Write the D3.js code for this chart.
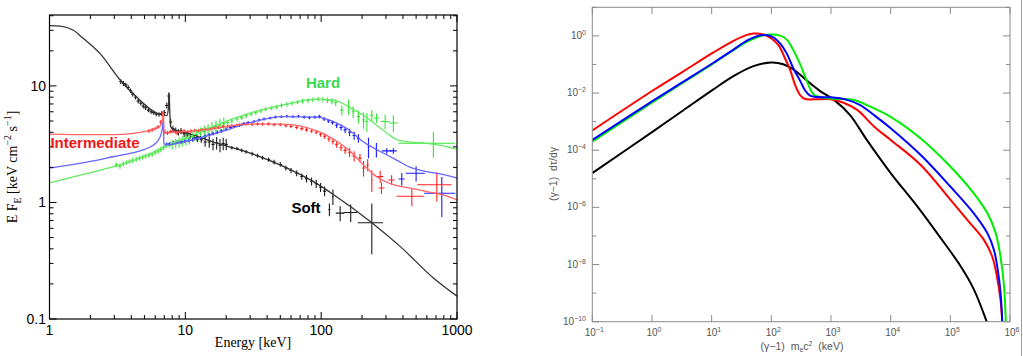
<!DOCTYPE html>
<html lang="en">
<head>
<meta charset="utf-8">
<title>spectra</title>
<style>
  body { margin: 0; background: #fff; }
  svg { display: block; }
</style>
</head>
<body>
<div id="chart"></div>
<script src="https://cdnjs.cloudflare.com/ajax/libs/d3/7.8.5/d3.min.js"></script>
<script>
// ---------- left panel: E F_E spectra, [E keV, flux] ----------
const softModel = [[1,32.9],[1.2,32.6],[1.5,30],[1.77,25.6],[2.35,19],[3.3,11.3],[4.6,7.6],[6.15,5.84],[7.3,5.55],[7.5,6.4],[7.6,8.65],[7.7,5.6],[7.8,4.45],[8.5,4.15],[10.2,3.96],[17,3.23],[30,2.65],[52.7,2.04],[93,1.45],[123,1.17],[236,0.67],[381,0.42],[670,0.225],[1000,0.157]]
const interModel = [[1,3.86],[2,3.82],[3,3.82],[4,3.9],[5,4.06],[6,4.3],[6.5,4.5],[6.75,5.0],[6.9,6.1],[6.95,4.2],[7.2,3.98],[10,4.06],[17,4.34],[30,4.7],[52,4.7],[93,4.11],[123,3.5],[160,2.8],[205,2.1],[255,1.67],[340,1.42],[450,1.33],[600,1.24],[795,1.16],[1000,1.05]]
const blueModel = [[1,1.97],[2,2.25],[3,2.48],[4,2.65],[5,2.85],[5.8,3.1],[6.3,3.4],[6.6,3.8],[6.8,4.5],[6.9,5.4],[6.95,3.2],[7.2,3.12],[10,3.33],[17,3.93],[30,4.85],[52,5.46],[93,5.39],[123,4.94],[160,4.2],[205,3.3],[255,2.85],[304,2.56],[362,2.3],[450,2.01],[600,1.84],[795,1.73],[1000,1.62]]
const hardModel = [[1,1.47],[2,1.8],[3,2.04],[5,2.48],[7,3.02],[10,3.56],[17,4.63],[30,5.84],[52,6.87],[93,7.69],[123,7.6],[160,6.6],[205,5.6],[255,4.6],[304,3.95],[362,3.45],[450,3.3],[600,3.22],[795,3.06],[1000,2.85]]

// data points [E, F, dE, dF]; dE = 0 -> narrow bin
const softData = [[3.35,10.9,0,0.5],[3.5,10.5,0,0.5],[3.65,10.2,0,0.45],[3.8,9.7,0,0.45],[3.95,9.1,0,0.4],[4.1,8.5,0,0.4],[4.3,8.0,0,0.35],[4.5,7.4,0,0.35],[4.7,7.1,0,0.3],[4.9,6.7,0,0.3],[5.1,6.5,0,0.3],[5.35,6.2,0,0.25],[5.6,6.0,0,0.25],[5.85,5.9,0,0.25],[6.1,5.75,0,0.25],[6.4,5.7,0,0.25],[6.7,5.8,0,0.25],[7.0,5.9,0,0.3],[7.3,6.8,0,0.4],[7.55,8.2,0,0.6],[7.8,4.9,0,0.3],[8.1,4.3,0,0.25],[8.5,4.15,0,0.25],[8.9,4.0,0,0.25],[9.3,4.1,0,0.25],[9.8,3.9,0,0.25],[10.3,3.8,0,0.2],[10.9,3.7,0,0.2],[11.6,3.6,0,0.2],[12.3,3.5,0,0.2],[13.1,3.45,0,0.2],[14,3.3,0,0.3],[15,3.3,0,0.35],[16,3.15,0,0.35],[17,3.25,0,0.4],[18,3.1,0,0.4],[19,3.2,0,0.4],[20,3.15,0,0.35],[22,2.95,0,0.1],[24,2.9,0,0.1],[26,2.8,0,0.1],[28,2.72,0,0.1],[31,2.62,0,0.1],[34,2.52,0,0.1],[37,2.42,0,0.1],[41,2.33,0,0.1],[45,2.22,0,0.1],[50,2.12,0,0.1],[55,1.98,0,0.1],[60,1.88,0,0.1],[66,1.78,0,0.1],[72,1.67,0,0.1],[78,1.6,0,0.12],[85,1.52,0,0.12],[92,1.45,0,0.12],[99,1.35,0,0.12],[106,1.25,0,0.12],[115,0.87,2,0.11],[122,1.12,2,0.17],[138,0.81,10,0.12],[165,0.82,19,0.14],[236,0.67,50,0.31]]
const interData = [[5.4,4.1,0,0.15],[5.7,4.2,0,0.15],[6.0,4.3,0,0.15],[6.3,4.45,0,0.15],[6.6,4.9,0,0.2],[6.85,5.8,0,0.3],[7.1,4.0,0,0.15],[7.4,3.95,0,0.15],[7.8,4.05,0,0.15],[8.2,4.1,0,0.15],[8.7,3.95,0,0.15],[9.2,4.05,0,0.15],[9.8,4.1,0,0.15],[10.4,4.0,0,0.15],[11,4.1,0,0.15],[11.7,4.15,0,0.15],[12.5,4.1,0,0.15],[13.3,4.2,0,0.15],[14.2,4.25,0,0.15],[15.2,4.3,0,0.15],[16.3,4.35,0,0.15],[17.5,4.4,0,0.15],[19,4.5,0,0.15],[20.5,4.5,0,0.15],[22,4.55,0,0.15],[24,4.6,0,0.15],[26,4.65,0,0.15],[28,4.7,0,0.15],[31,4.68,0,0.15],[34,4.72,0,0.15],[37,4.7,0,0.15],[41,4.72,0,0.15],[45,4.65,0,0.15],[50,4.65,0,0.15],[55,4.55,0,0.15],[60,4.5,0,0.15],[66,4.4,0,0.15],[72,4.3,0,0.15],[78,4.2,0,0.15],[85,4.1,0,0.15],[92,4.0,0,0.15],[99,3.85,0,0.18],[106,3.7,0,0.18],[114,3.5,0,0.18],[122,3.35,0,0.2],[130,3.15,0,0.2],[140,2.95,0,0.2],[150,2.8,0,0.2],[162,2.7,0,0.25],[175,2.5,0,0.25],[193,2.4,0,0.2],[205,1.97,4,0.3],[220,2.1,4,0.25],[236,1.56,3,0.33],[272,1.67,15,0.2],[278,1.33,14,0.15],[330,1.56,18,0.15],[465,1.13,105,0.2],[710,1.42,200,0.4]]
const blueData = [[7.3,3.15,0,0.12],[7.7,3.2,0,0.12],[8.2,3.25,0,0.12],[8.7,3.3,0,0.12],[9.3,3.3,0,0.12],[9.9,3.35,0,0.12],[10.6,3.4,0,0.12],[11.3,3.45,0,0.12],[12.1,3.55,0,0.12],[13,3.6,0,0.12],[14,3.7,0,0.14],[15,3.8,0,0.14],[16,3.9,0,0.14],[17.2,4.0,0,0.14],[18.5,4.1,0,0.14],[20,4.25,0,0.15],[21.5,4.4,0,0.15],[23,4.5,0,0.15],[25,4.6,0,0.15],[27,4.75,0,0.15],[29,4.85,0,0.15],[32,4.95,0,0.15],[35,5.1,0,0.15],[38,5.2,0,0.15],[42,5.3,0,0.15],[46,5.4,0,0.15],[51,5.45,0,0.15],[56,5.5,0,0.15],[62,5.45,0,0.15],[68,5.5,0,0.15],[75,5.4,0,0.18],[82,5.35,0,0.18],[90,5.4,0,0.18],[97,5.45,0,0.2],[105,5.2,0,0.2],[113,5.0,0,0.2],[121,4.85,0,0.2],[130,4.6,0,0.25],[140,4.4,0,0.25],[150,4.2,0,0.25],[162,4.0,0,0.3],[175,3.75,0,0.3],[188,3.55,0,0.3],[223,3.0,3,0.6],[255,2.83,4,0.4],[304,2.77,25,0.15],[340,2.77,20,0.15],[392,1.59,20,0.2],[500,1.78,80,0.27],[773,1.2,200,0.45]]
const hardData = [[3.1,2.1,0,0.1],[3.3,2.05,0,0.1],[3.5,2.15,0,0.1],[3.7,2.2,0,0.1],[3.9,2.25,0,0.1],[4.1,2.3,0,0.12],[4.35,2.35,0,0.12],[4.6,2.4,0,0.12],[4.85,2.45,0,0.12],[5.1,2.5,0,0.12],[5.4,2.55,0,0.13],[5.7,2.6,0,0.13],[6.0,2.7,0,0.14],[6.3,2.75,0,0.14],[6.6,2.85,0,0.15],[6.9,2.95,0,0.15],[7.2,3.05,0,0.15],[7.6,3.1,0,0.15],[8.0,3.15,0,0.3],[8.5,3.2,0,0.3],[9.0,3.3,0,0.35],[9.5,3.35,0,0.35],[10.1,3.5,0,0.4],[10.7,3.55,0,0.4],[11.4,3.7,0,0.4],[12.1,3.8,0,0.45],[12.9,3.95,0,0.45],[13.8,4.05,0,0.5],[14.7,4.2,0,0.5],[15.7,4.35,0,0.55],[16.8,4.5,0,0.55],[18,4.6,0,0.6],[19.2,4.75,0,0.6],[20.5,4.85,0,0.25],[22,5.0,0,0.25],[24,5.2,0,0.25],[26,5.35,0,0.25],[28,5.55,0,0.25],[30.5,5.75,0,0.25],[33,5.9,0,0.25],[36,6.1,0,0.25],[39,6.3,0,0.25],[43,6.45,0,0.25],[47,6.6,0,0.3],[51,6.8,0,0.3],[56,6.95,0,0.3],[61,7.1,0,0.3],[67,7.25,0,0.3],[73,7.4,0,0.35],[80,7.5,0,0.35],[87,7.6,0,0.35],[95,7.7,0,0.35],[103,7.65,0,0.4],[111,7.55,0,0.4],[120,7.4,0,0.45],[128,7.2,0,0.5],[142,6.2,0,0.6],[159,6.65,0,1.0],[172,6.0,0,0.7],[188,5.45,0,0.7],[205,5.1,0,0.8],[217,4.95,0,0.9],[236,5.6,0,0.6],[256,5.3,12,0.5],[296,4.95,22,0.7],[340,4.8,25,0.8],[670,3.22,300,0.8]]

const leftXTicks = [1, 10, 100, 1000]
const leftYTicks = [0.1, 1, 10]

// ---------- right panel: (gamma-1) dtau/dgamma, [log10 x, log10 y] ----------
const redDist = [[-1,-3.31],[0.007,-1.92],[0.527,-1.24],[1.03,-0.58],[1.366,-0.174],[1.59,0.036],[1.70,0.083],[1.87,0.048],[2.0,-0.09],[2.12,-0.324],[2.23,-0.79],[2.317,-1.2],[2.40,-1.72],[2.49,-2.09],[2.57,-2.21],[2.71,-2.22],[2.99,-2.22],[3.21,-2.34],[3.44,-2.59],[3.72,-3.17],[4.0,-3.64],[4.5,-4.51],[5.0,-5.73],[5.28,-6.43],[5.56,-7.13],[5.70,-7.71],[5.78,-8.41],[5.84,-9.22],[5.87,-10]]
const blueDist = [[-1,-3.64],[0.007,-2.28],[0.527,-1.60],[1.03,-0.94],[1.366,-0.48],[1.59,-0.17],[1.76,-0.01],[1.93,0.024],[2.04,-0.06],[2.15,-0.27],[2.26,-0.62],[2.37,-1.14],[2.49,-1.60],[2.57,-1.92],[2.65,-2.09],[2.77,-2.14],[2.99,-2.15],[3.27,-2.24],[3.49,-2.42],[3.72,-2.77],[4.0,-3.23],[4.5,-4.16],[5.0,-5.27],[5.39,-6.20],[5.62,-6.90],[5.73,-7.48],[5.81,-8.41],[5.85,-9.22],[5.87,-10]]
const greenDist = [[-1,-3.70],[0.007,-2.33],[0.527,-1.63],[1.03,-0.965],[1.366,-0.50],[1.59,-0.21],[1.81,-0.01],[1.98,0.048],[2.15,0.01],[2.26,-0.13],[2.37,-0.5],[2.49,-1.02],[2.60,-1.60],[2.71,-2.05],[2.83,-2.15],[3.05,-2.2],[3.39,-2.24],[3.60,-2.42],[4.0,-2.83],[4.5,-3.58],[5.0,-4.57],[5.39,-5.50],[5.62,-6.20],[5.76,-6.90],[5.84,-7.71],[5.90,-8.76],[5.93,-10]]
const blackDist = [[-1,-4.80],[0.007,-3.36],[0.527,-2.60],[1.03,-1.87],[1.366,-1.41],[1.70,-1.06],[2.0,-0.93],[2.2,-0.99],[2.37,-1.17],[2.60,-1.57],[2.83,-1.95],[3.05,-2.24],[3.32,-2.77],[3.60,-3.64],[4.0,-4.80],[4.44,-5.95],[4.83,-7.05],[5.17,-8.05],[5.39,-8.85],[5.61,-10]]

const rightXExps = [-1, 0, 1, 2, 3, 4, 5, 6]
const rightYExps = [-10, -9, -8, -7, -6, -5, -4, -3, -2, -1, 0, 1]

const W = 1023, H = 356
const svg = d3.select('#chart').append('svg').attr('width', W).attr('height', H)

// ================= LEFT =================
const lx = d3.scaleLog().domain([1, 1000]).range([49.5, 457])
const ly = d3.scaleLog().domain([0.1, 40.6]).range([319, 15])
const L = svg.append('g')

L.append('defs').append('clipPath').attr('id', 'clipL')
  .append('rect').attr('x', 49.5).attr('y', 15).attr('width', 457 - 49.5).attr('height', 304)

const lineL = d3.line().x(d => lx(d[0])).y(d => ly(d[1])).curve(d3.curveMonotoneX)
const plotL = L.append('g').attr('clip-path', 'url(#clipL)')

function drawData(data, color) {
  const g = plotL.append('g').attr('stroke', color).attr('stroke-width', 1.1).attr('fill', 'none')
  data.forEach(d => {
    const [e, f, de, df] = d
    const cx = lx(e), cy = ly(f)
    const x0 = de ? lx(e - de) : cx - 1.6
    const x1 = de ? lx(e + de) : cx + 1.6
    g.append('line').attr('x1', x0).attr('x2', x1).attr('y1', cy).attr('y2', cy)
    g.append('line').attr('x1', cx).attr('x2', cx).attr('y1', ly(Math.max(f - df, 0.101))).attr('y2', ly(f + df))
  })
}

drawData(softData, '#1a1a1a')
drawData(hardData, '#33e633')
drawData(blueData, '#1a1aff')
drawData(interData, '#ff2020')

const models = [[softModel, '#333'], [hardModel, '#66ea66'], [blueModel, '#6666ff'], [interModel, '#ff6262']]
models.forEach(([m, c]) => {
  plotL.append('path').datum(m).attr('d', lineL).attr('fill', 'none').attr('stroke', c).attr('stroke-width', 1.3)
})

// frame + ticks
L.append('rect').attr('x', 49.5).attr('y', 15).attr('width', 457 - 49.5).attr('height', 304)
  .attr('fill', 'none').attr('stroke', '#000').attr('stroke-width', 1.2)

const lxMinor = []
for (let k = 0; k < 3; k++) for (let m = 2; m <= 9; m++) lxMinor.push(m * Math.pow(10, k))
const lyMinor = []
for (let k = -1; k < 2; k++) for (let m = 2; m <= 9; m++) { const v = m * Math.pow(10, k); if (v < 40.6) lyMinor.push(v) }

const tk = L.append('g').attr('stroke', '#000').attr('stroke-width', 1)
leftXTicks.forEach(v => {
  tk.append('line').attr('x1', lx(v)).attr('x2', lx(v)).attr('y1', 319).attr('y2', 312)
  tk.append('line').attr('x1', lx(v)).attr('x2', lx(v)).attr('y1', 15).attr('y2', 22)
})
lxMinor.forEach(v => {
  tk.append('line').attr('x1', lx(v)).attr('x2', lx(v)).attr('y1', 319).attr('y2', 315)
  tk.append('line').attr('x1', lx(v)).attr('x2', lx(v)).attr('y1', 15).attr('y2', 19)
})
leftYTicks.forEach(v => {
  tk.append('line').attr('x1', 49.5).attr('x2', 56.5).attr('y1', ly(v)).attr('y2', ly(v))
  tk.append('line').attr('x1', 457).attr('x2', 450).attr('y1', ly(v)).attr('y2', ly(v))
})
lyMinor.forEach(v => {
  tk.append('line').attr('x1', 49.5).attr('x2', 53.5).attr('y1', ly(v)).attr('y2', ly(v))
  tk.append('line').attr('x1', 457).attr('x2', 453).attr('y1', ly(v)).attr('y2', ly(v))
})

const fontL = '"Liberation Sans", Arial, sans-serif'
L.selectAll('.lxl').data(leftXTicks).enter().append('text')
  .attr('x', d => lx(d)).attr('y', 335).attr('text-anchor', 'middle')
  .style('font-family', fontL).style('font-size', '14px').text(d => d)
L.selectAll('.lyl').data(leftYTicks).enter().append('text')
  .attr('x', 46).attr('y', d => ly(d) + 5).attr('text-anchor', 'end')
  .style('font-family', fontL).style('font-size', '14px').text(d => d)

const serif = '"Liberation Serif", "Times New Roman", serif'
L.append('text').attr('x', 253).attr('y', 347).attr('text-anchor', 'middle')
  .style('font-family', serif).style('font-size', '14px').text('Energy [keV]')

const yl = L.append('text').attr('transform', 'translate(17,167) rotate(-90)').attr('text-anchor', 'middle')
  .style('font-family', serif).style('font-size', '14px')
yl.append('tspan').text('E F')
yl.append('tspan').attr('dy', 4).style('font-size', '10px').text('E')
yl.append('tspan').attr('dy', -4).text(' [keV cm')
yl.append('tspan').attr('dy', -6).style('font-size', '10px').text('−2')
yl.append('tspan').attr('dy', 6).text(' s')
yl.append('tspan').attr('dy', -6).style('font-size', '10px').text('−1')
yl.append('tspan').attr('dy', 6).text(']')

const lab = [['Hard', 323, 88, '#3ad84e'], ['Intermediate', 95, 148, '#f01616'], ['Soft', 306, 213, '#000']]
lab.forEach(([t, x, y, c]) => {
  L.append('text').attr('x', x).attr('y', y).attr('text-anchor', 'middle')
    .style('font-family', fontL).style('font-size', '15px').style('font-weight', 'bold')
    .attr('fill', c).text(t)
})

// ================= RIGHT =================
const rx = d3.scaleLog().domain([0.1, 1e6]).range([592.3, 1010])
const ry = d3.scaleLog().domain([1e-10, 10]).range([321.7, 7.3])
const R = svg.append('g')
R.append('defs').append('clipPath').attr('id', 'clipR')
  .append('rect').attr('x', 592.3).attr('y', 7.3).attr('width', 1010 - 592.3).attr('height', 321.7 - 7.3)

const lineR = d3.line().x(d => rx(Math.pow(10, d[0]))).y(d => ry(Math.pow(10, d[1]))).curve(d3.curveCatmullRom.alpha(0.5))
const plotR = R.append('g').attr('clip-path', 'url(#clipR)')
const dists = [[blackDist, '#000'], [redDist, '#ff0000'], [greenDist, '#00ee00'], [blueDist, '#0000ff']]
dists.forEach(([s, c]) => {
  plotR.append('path').datum(s).attr('d', lineR).attr('fill', 'none').attr('stroke', c).attr('stroke-width', 2)
})

const grey = '#8a8a8a'
R.append('rect').attr('x', 592.3).attr('y', 7.3).attr('width', 1010 - 592.3).attr('height', 321.7 - 7.3)
  .attr('fill', 'none').attr('stroke', grey).attr('stroke-width', 1)
const tr = R.append('g').attr('stroke', grey).attr('stroke-width', 1)
rightXExps.forEach(e => {
  const x = rx(Math.pow(10, e))
  tr.append('line').attr('x1', x).attr('x2', x).attr('y1', 321.7).attr('y2', 315)
  tr.append('line').attr('x1', x).attr('x2', x).attr('y1', 7.3).attr('y2', 14)
})
rightYExps.forEach(e => {
  const y = ry(Math.pow(10, e)), len = e % 2 === 0 ? 7 : 4
  tr.append('line').attr('x1', 592.3).attr('x2', 592.3 + len).attr('y1', y).attr('y2', y)
  tr.append('line').attr('x1', 1010).attr('x2', 1010 - len).attr('y1', y).attr('y2', y)
})
svg.append('line').attr('x1', 1021.5).attr('x2', 1021.5).attr('y1', 0).attr('y2', H)
  .attr('stroke', '#a0a0a0').attr('stroke-width', 1)

const fontR = '"Liberation Sans", Arial, sans-serif'
function powLabel(sel, e) {
  sel.append('tspan').text('10')
  sel.append('tspan').attr('dy', -4).style('font-size', '7px').text(e < 0 ? '−' + (-e) : e)
}
rightXExps.forEach(e => {
  const t = R.append('text').attr('x', rx(Math.pow(10, e)) + 2).attr('y', 336).attr('text-anchor', 'middle')
    .attr('fill', '#555').style('font-family', fontR).style('font-size', '10px')
  powLabel(t, e)
})
rightYExps.filter(e => e % 2 === 0 && e <= 0).forEach(e => {
  const t = R.append('text').attr('x', 586).attr('y', ry(Math.pow(10, e)) + 3).attr('text-anchor', 'end')
    .attr('fill', '#555').style('font-family', fontR).style('font-size', '10px')
  powLabel(t, e)
})

const xl = R.append('text').attr('x', 802).attr('y', 350).attr('text-anchor', 'middle')
  .attr('fill', '#555').style('font-family', fontR).style('font-size', '10.5px').attr('xml:space', 'preserve')
xl.append('tspan').text('(γ−1)  m')
xl.append('tspan').attr('dy', 2).style('font-size', '7px').text('e')
xl.append('tspan').attr('dy', -2).text('c')
xl.append('tspan').attr('dy', -4).style('font-size', '7px').text('2')
xl.append('tspan').attr('dy', 4).text('  (keV)')

R.append('text').attr('transform', 'translate(557,174) rotate(-90)').attr('text-anchor', 'middle')
  .attr('fill', '#555').style('font-family', fontR).style('font-size', '10.5px').attr('xml:space', 'preserve')
  .text('(γ−1)  dτ/dγ')
</script>
</body>
</html>
